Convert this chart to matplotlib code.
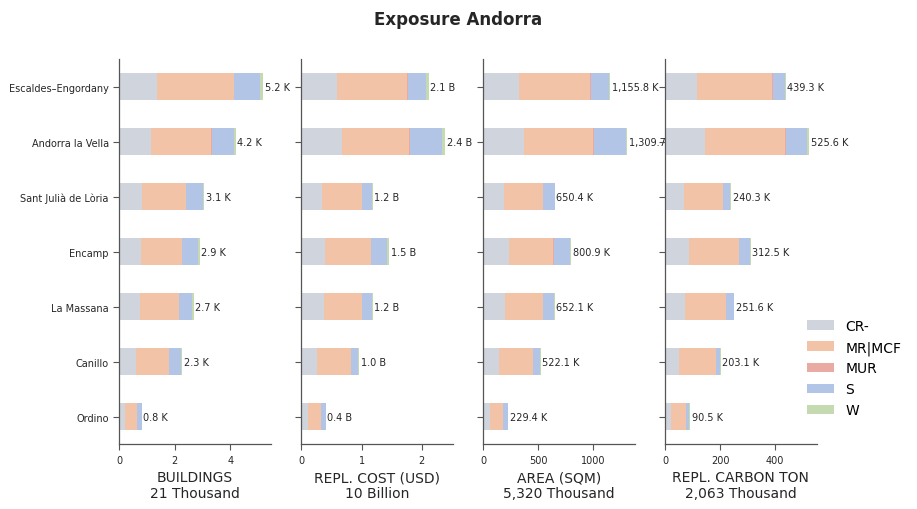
import matplotlib
matplotlib.use("Agg")
import matplotlib.pyplot as plt
import numpy as np

# municipalities (top to bottom)
places = ["Escaldes–Engordany", "Andorra la Vella", "Sant Julià de Lòria",
          "Encamp", "La Massana", "Canillo", "Ordino"]
classes = ["CR-", "MR|MCF", "MUR", "S", "W"]
colors = ["#d0d4dc", "#f3c3a7", "#e8aaa2", "#b3c5e7", "#c6dab2"]

# buildings (thousands)
bld_cr = [1.36, 1.14, 0.82, 0.78, 0.74, 0.60, 0.20]
bld_mr = [2.77, 2.16, 1.57, 1.46, 1.41, 1.20, 0.44]
bld_mur = [0.01, 0.04, 0.00, 0.00, 0.00, 0.00, 0.00]
bld_s = [0.92, 0.80, 0.63, 0.59, 0.45, 0.43, 0.18]
bld_w = [0.12, 0.06, 0.04, 0.06, 0.09, 0.03, 0.00]

# replacement cost (billion USD)
cost_cr = [0.60, 0.68, 0.34, 0.40, 0.37, 0.26, 0.11]
cost_mr = [1.16, 1.11, 0.66, 0.76, 0.63, 0.57, 0.22]
cost_mur = [0.01, 0.02, 0.00, 0.00, 0.00, 0.00, 0.00]
cost_s = [0.30, 0.53, 0.17, 0.27, 0.17, 0.11, 0.08]
cost_w = [0.05, 0.05, 0.02, 0.03, 0.02, 0.02, 0.00]

# area (thousand sqm)
area_cr = [327, 370, 188, 236, 200, 145, 61]
area_mr = [646, 630, 354, 400, 342, 310, 118]
area_mur = [6, 9, 0, 3, 0, 0, 0]
area_s = [166, 284, 106, 153, 103, 64, 48]
area_w = [10.8, 16.7, 2.4, 8.9, 7.1, 3.1, 2.4]

# replacement carbon (thousand ton)
carb_cr = [115, 144, 68, 86, 73, 51, 21]
carb_mr = [274, 291, 142, 182, 148, 133, 54]
carb_mur = [4, 7, 0, 0, 0, 0, 0]
carb_s = [45, 76, 25, 40, 29, 15, 13]
carb_w = [1.3, 7.6, 5.3, 4.5, 1.6, 4.1, 2.5]

panels = [
    ("BUILDINGS\n21 Thousand", [bld_cr, bld_mr, bld_mur, bld_s, bld_w], "{:,.1f} K"),
    ("REPL. COST (USD)\n10 Billion", [cost_cr, cost_mr, cost_mur, cost_s, cost_w], "{:,.1f} B"),
    ("AREA (SQM)\n5,320 Thousand", [area_cr, area_mr, area_mur, area_s, area_w], "{:,.1f} K"),
    ("REPL. CARBON TON\n2,063 Thousand", [carb_cr, carb_mr, carb_mur, carb_s, carb_w], "{:,.1f} K"),
]

fig = plt.figure(figsize=(9.17, 5.10), dpi=100)
fig.suptitle("Exposure Andorra", fontsize=12, fontweight="bold", color="#262626", y=0.978)

y = np.arange(len(places))
left0, width, gap = 0.13, 0.165, 0.0335
for i, (label, series, fmt) in enumerate(panels):
    ax = fig.add_axes([left0 + i * (width + gap), 0.127, width, 0.755])
    base = np.zeros(len(places))
    for vals, cls, col in zip(series, classes, colors):
        ax.barh(y, vals, left=base, height=0.5, color=col, label=cls)
        base = base + np.array(vals)
    for yy, tot in zip(y, base):
        ax.text(tot + base.max() * 0.01, yy, fmt.format(tot), va="center",
                ha="left", fontsize=7, color="#262626")
    ax.set_xlim(0, base.max() * 1.05)
    ax.set_ylim(len(places) - 0.5, -0.5)
    ax.set_yticks(y)
    if i == 0:
        ax.set_yticklabels(places, fontsize=7)
    else:
        ax.set_yticklabels([])
    ax.set_xlabel(label, fontsize=10, color="#262626")
    ax.tick_params(axis="x", labelsize=7, colors="#555555", labelcolor="#262626", length=4)
    ax.tick_params(axis="y", colors="#555555", labelcolor="#262626", length=4)
    for sp in ["top", "right"]:
        ax.spines[sp].set_visible(False)
    for sp in ["left", "bottom"]:
        ax.spines[sp].set_color("#555555")
        ax.spines[sp].set_linewidth(0.9)
    if i == 3:
        handles, labs = ax.get_legend_handles_labels()

fig.legend(handles, labs, loc="center left", bbox_to_anchor=(0.866, 0.276),
           frameon=False, fontsize=10, handlelength=2.0, labelspacing=0.5)

fig.savefig("out.png", dpi=100)
